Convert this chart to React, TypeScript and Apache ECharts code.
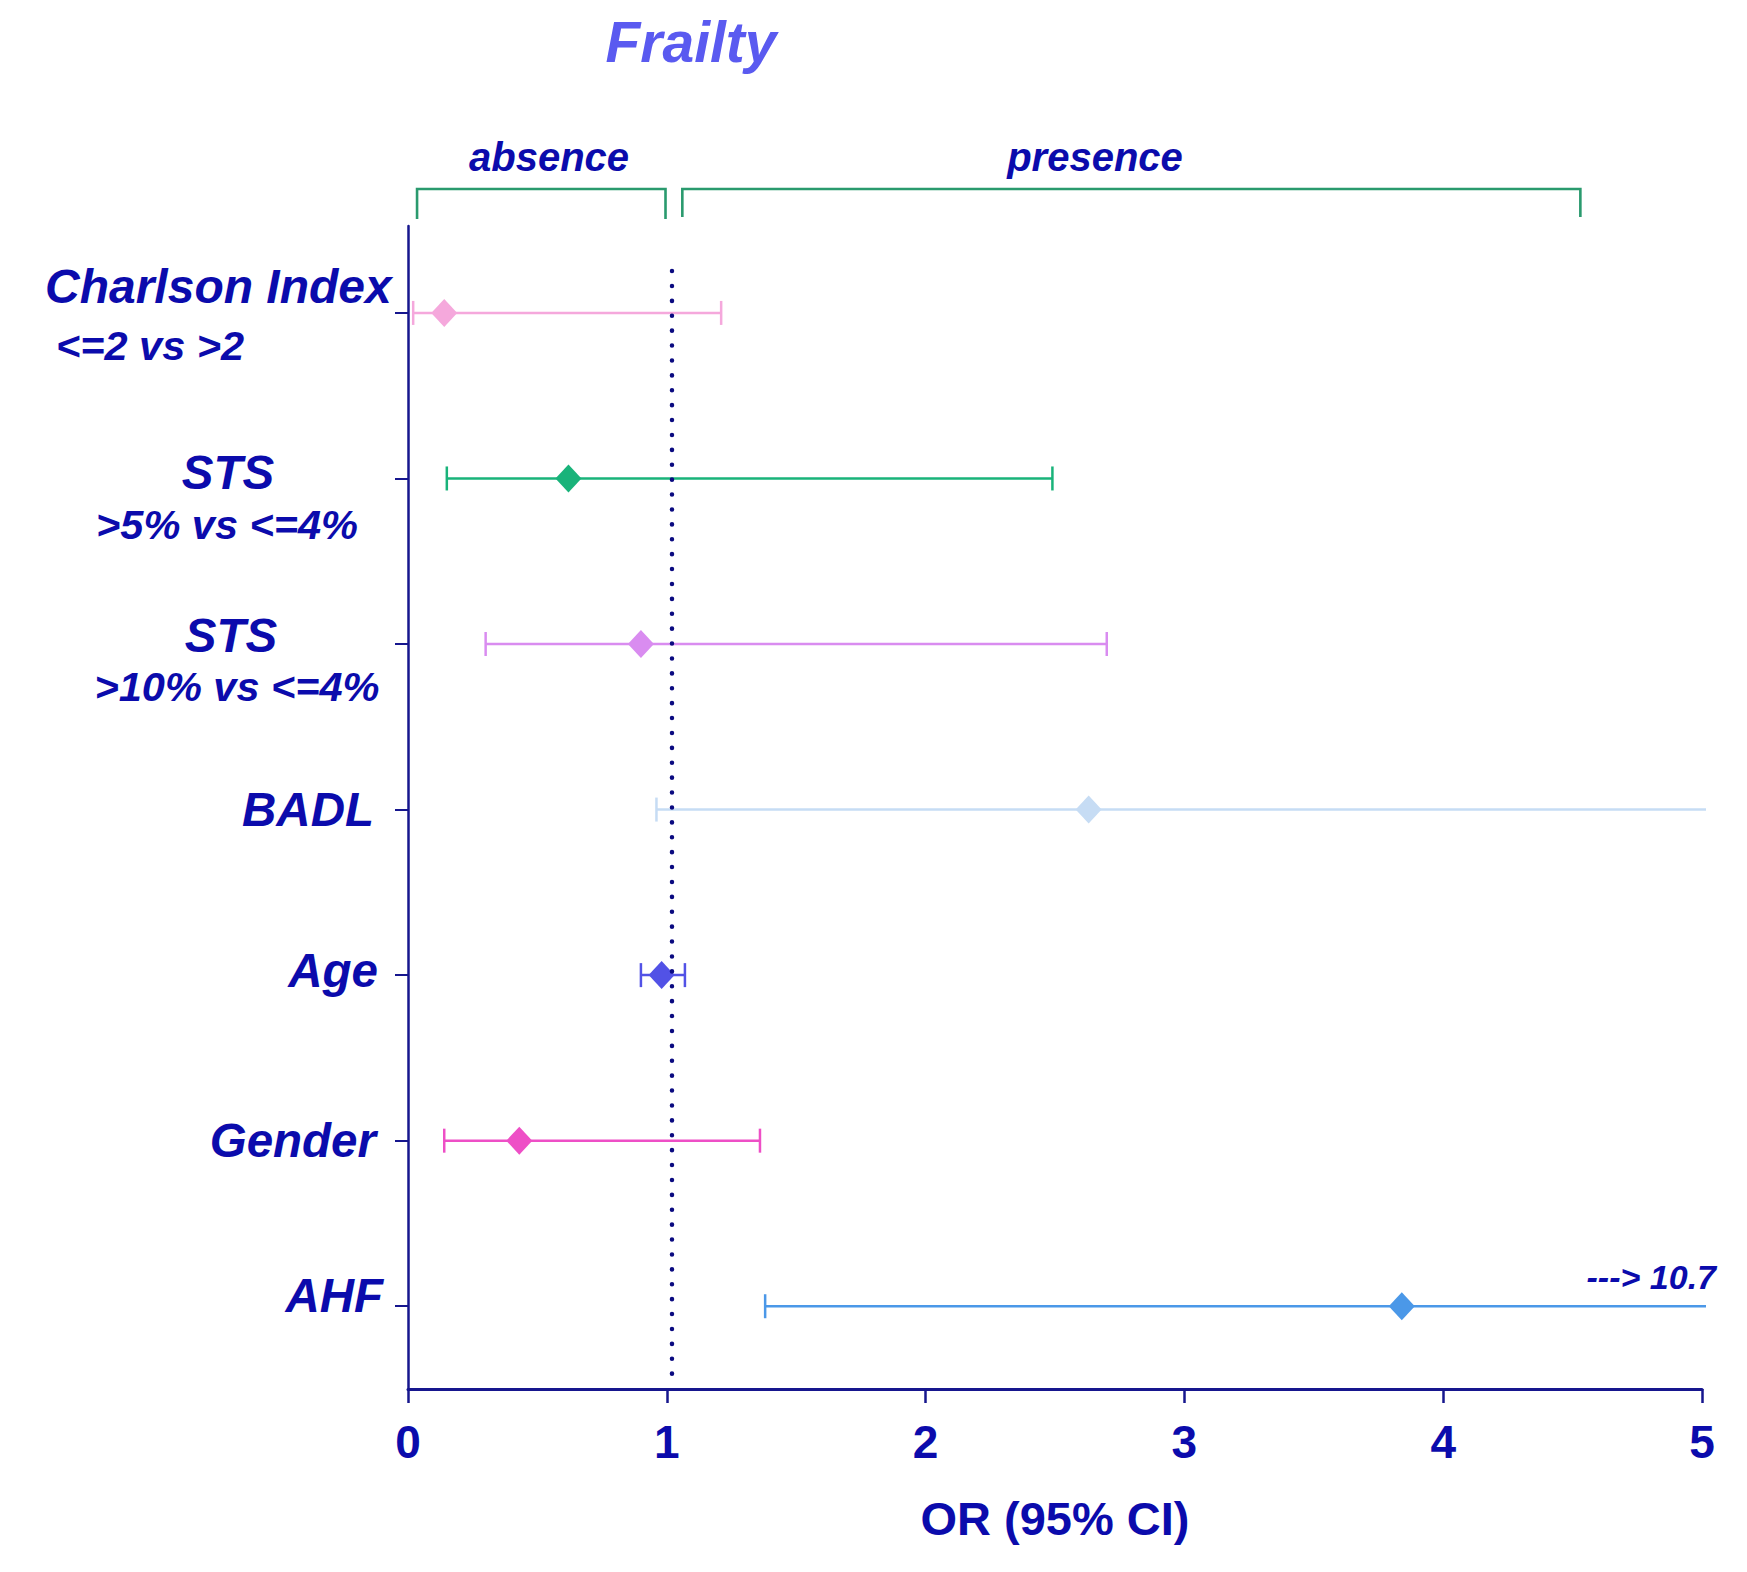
import React, { useEffect, useRef } from "react";
import * as echarts from "echarts";

// ---------- data ----------
const CATEGORIES = ["Charlson Index", "STS >5%", "STS >10%", "BADL", "Age", "Gender", "AHF"];
const LABEL_MAIN = ["Charlson Index", "STS", "STS", "BADL", "Age", "Gender", "AHF"];
const LABEL_SUB = ["<=2 vs >2", ">5% vs <=4%", ">10% vs <=4%", "", "", "", ""];
const OR_VALUES = [0.14, 0.62, 0.9, 2.63, 0.98, 0.43, 3.84];
const CI_LOW = [0.02, 0.15, 0.3, 0.96, 0.9, 0.14, 1.38];
const CI_HIGH = [1.21, 2.49, 2.7, 5.2, 1.07, 1.36, 10.7]; // BADL upper bound runs off the axis (estimate)
const X_TICKS = [0, 1, 2, 3, 4, 5];
const ROW_INDEX = [0, 1, 2, 3, 4, 5, 6];
const REF_OR = 1.02;
const BRACKET_LABELS = ["absence", "presence"];
const BRACKET_FROM = [0.035, 1.06];
const BRACKET_TO = [0.995, 4.53];
const AHF_NOTE = "---> 10.7";
const TITLE = "Frailty";
const X_NAME = "OR (95% CI)";

// ---------- styles ----------
const SERIES_COLORS = ["#f5a8dc", "#19b37a", "#d98cf0", "#c6dcf4", "#5252e6", "#ee4fc6", "#4b98e8"];
const TEXT = "#0b0bac";
const AXIS = "#16168e";
const GREEN = "#2a9a6e";
const FONT = "'Liberation Sans', Arial, Helvetica, sans-serif";
const X_MIN = 0;
const X_MAX = 5;
const Y_MIN = -0.525;
const Y_MAX = 6.5;

// label layout per category: [align, x, dyMain, subX, dySub]
const LABEL_LAYOUT: [string, number, number, number, number][] = [
  ["left", 45, -26, 56, 33],
  ["center", 228, -6, 227, 46],
  ["center", 231, -9, 237, 42],
  ["right", 374, 0, 0, 0],
  ["right", 378, -5, 0, 0],
  ["right", 376, 0, 0, 0],
  ["right", 383, -11, 0, 0],
];

export default function App() {
  const ref = useRef<HTMLDivElement>(null);

  useEffect(() => {
    if (!ref.current) return;
    const chart = echarts.init(ref.current, null, { renderer: "svg" });

    const option: any = {
      animation: false,
      backgroundColor: "#ffffff",
      title: {
        text: TITLE,
        left: 686,
        top: 8,
        textAlign: "center",
        textStyle: {
          color: "#5a5af0",
          fontSize: 57,
          fontWeight: "bold",
          fontStyle: "italic",
          fontFamily: FONT,
        },
      },
      grid: {
        left: 408,
        right: 45,
        top: 226,
        bottom: 183,
        containLabel: false,
        outerBoundsMode: "none",
      },
      xAxis: {
        type: "value",
        min: X_MIN,
        max: X_MAX,
        interval: 1,
        splitLine: { show: false },
        axisLine: { show: true, onZero: false, lineStyle: { color: AXIS, width: 3 } },
        axisTick: { show: true, length: 14, lineStyle: { color: AXIS, width: 2.5 } },
        axisLabel: {
          color: TEXT,
          fontSize: 46,
          fontWeight: "bold",
          fontFamily: FONT,
          margin: 30,
          formatter: (v: number) => (X_TICKS.includes(v) ? String(v) : ""),
        },
        name: X_NAME,
        nameLocation: "middle",
        nameGap: 106,
        nameTextStyle: {
          color: TEXT,
          fontSize: 47,
          fontWeight: "bold",
          fontFamily: FONT,
        },
      },
      yAxis: {
        type: "value",
        min: Y_MIN,
        max: Y_MAX,
        inverse: true,
        axisLine: { show: true, onZero: false, lineStyle: { color: AXIS, width: 2.5 } },
        axisTick: { show: true, length: 13, customValues: ROW_INDEX, lineStyle: { color: AXIS, width: 2 } },
        axisLabel: { show: false },
        splitLine: { show: false },
      },
      series: [
        {
          type: "custom",
          clip: false,
          encode: { x: [0, 1], y: 2 },
          data: CATEGORIES.map((_, i) => [CI_LOW[i], CI_HIGH[i], ROW_INDEX[i]]),
          renderItem: (_params: any, api: any) => {
            const i = api.value(2);
            const lo = api.value(0);
            const hi = api.value(1);
            const y = api.coord([X_MIN, i])[1];
            const xLo = api.coord([Math.max(lo, X_MIN), i])[0];
            const clipped = hi > X_MAX;
            const xHi = clipped ? api.coord([X_MAX, i])[0] + 4 : api.coord([hi, i])[0];
            const style = { stroke: SERIES_COLORS[i], lineWidth: 2.5 };
            const half = 12;
            const children: any[] = [
              { type: "line", shape: { x1: xLo, y1: y, x2: xHi, y2: y }, style },
              { type: "line", shape: { x1: xLo, y1: y - half, x2: xLo, y2: y + half }, style },
            ];
            if (!clipped) {
              children.push({ type: "line", shape: { x1: xHi, y1: y - half, x2: xHi, y2: y + half }, style });
            }
            return { type: "group", children };
          },
          z: 3,
        },
        {
          type: "scatter",
          symbol: "diamond",
          symbolSize: [26, 28],
          data: CATEGORIES.map((_, i) => ({
            value: [OR_VALUES[i], ROW_INDEX[i]],
            itemStyle: { color: SERIES_COLORS[i], opacity: 1 },
          })),
          z: 4,
        },
      ],
    };

    chart.setOption(option);

    const px = (v: number) => chart.convertToPixel({ xAxisIndex: 0 }, v) as number;
    const py = (i: number) => chart.convertToPixel({ yAxisIndex: 0 }, i) as number;
    const gridTop = 226;
    const gridBottom = 1572 - 183;

    const graphics: any[] = [];

    // reference line (OR = 1)
    const xr = px(REF_OR);
    graphics.push({
      type: "line",
      z: 10,
      shape: { x1: xr, y1: gridTop + 45, x2: xr, y2: gridBottom - 2 },
      style: { stroke: "#0a0a80", lineWidth: 4.5, lineDash: [0.1, 14.8], lineCap: "round" },
    });

    // brackets
    const bracketTop = 189;
    const bracketBottom = [219, 217];
    const labelX = [549, 1095];
    BRACKET_LABELS.forEach((lab, k) => {
      const x1 = px(BRACKET_FROM[k]);
      const x2 = px(BRACKET_TO[k]);
      graphics.push({
        type: "polyline",
        shape: {
          points: [
            [x1, bracketBottom[k]],
            [x1, bracketTop],
            [x2, bracketTop],
            [x2, bracketBottom[k]],
          ],
        },
        style: { stroke: GREEN, lineWidth: 2.6, fill: null },
      });
      graphics.push({
        type: "text",
        x: labelX[k],
        y: 157,
        style: {
          text: lab,
          fill: TEXT,
          font: `italic bold 40px ${FONT}`,
          textAlign: "center",
          textVerticalAlign: "middle",
        },
      });
    });

    // category labels
    CATEGORIES.forEach((_, i) => {
      const y = py(ROW_INDEX[i]);
      const [align, x, dyMain, subX, dySub] = LABEL_LAYOUT[i];
      graphics.push({
        type: "text",
        x,
        y: y + dyMain,
        style: {
          text: LABEL_MAIN[i],
          fill: TEXT,
          font: `italic bold ${i === 0 ? 48 : 47.5}px ${FONT}`,
          textAlign: align,
          textVerticalAlign: "middle",
        },
      });
      if (LABEL_SUB[i]) {
        graphics.push({
          type: "text",
          x: subX,
          y: y + dySub,
          style: {
            text: LABEL_SUB[i],
            fill: TEXT,
            font: `italic bold 41.5px ${FONT}`,
            textAlign: align,
            textVerticalAlign: "middle",
          },
        });
      }
    });

    // AHF note
    const ahf = ROW_INDEX[CATEGORIES.length - 1];
    graphics.push({
      type: "text",
      x: px(X_MAX) + 14,
      y: py(ahf) - 29,
      style: {
        text: AHF_NOTE,
        fill: TEXT,
        font: `italic bold 34px ${FONT}`,
        textAlign: "right",
        textVerticalAlign: "middle",
      },
    });

    chart.setOption({ graphic: graphics });

    return () => chart.dispose();
  }, []);

  return (
    <div
      ref={ref}
      style={{ position: "absolute", left: 0, top: 0, width: 1747, height: 1572, background: "#fff" }}
    />
  );
}
